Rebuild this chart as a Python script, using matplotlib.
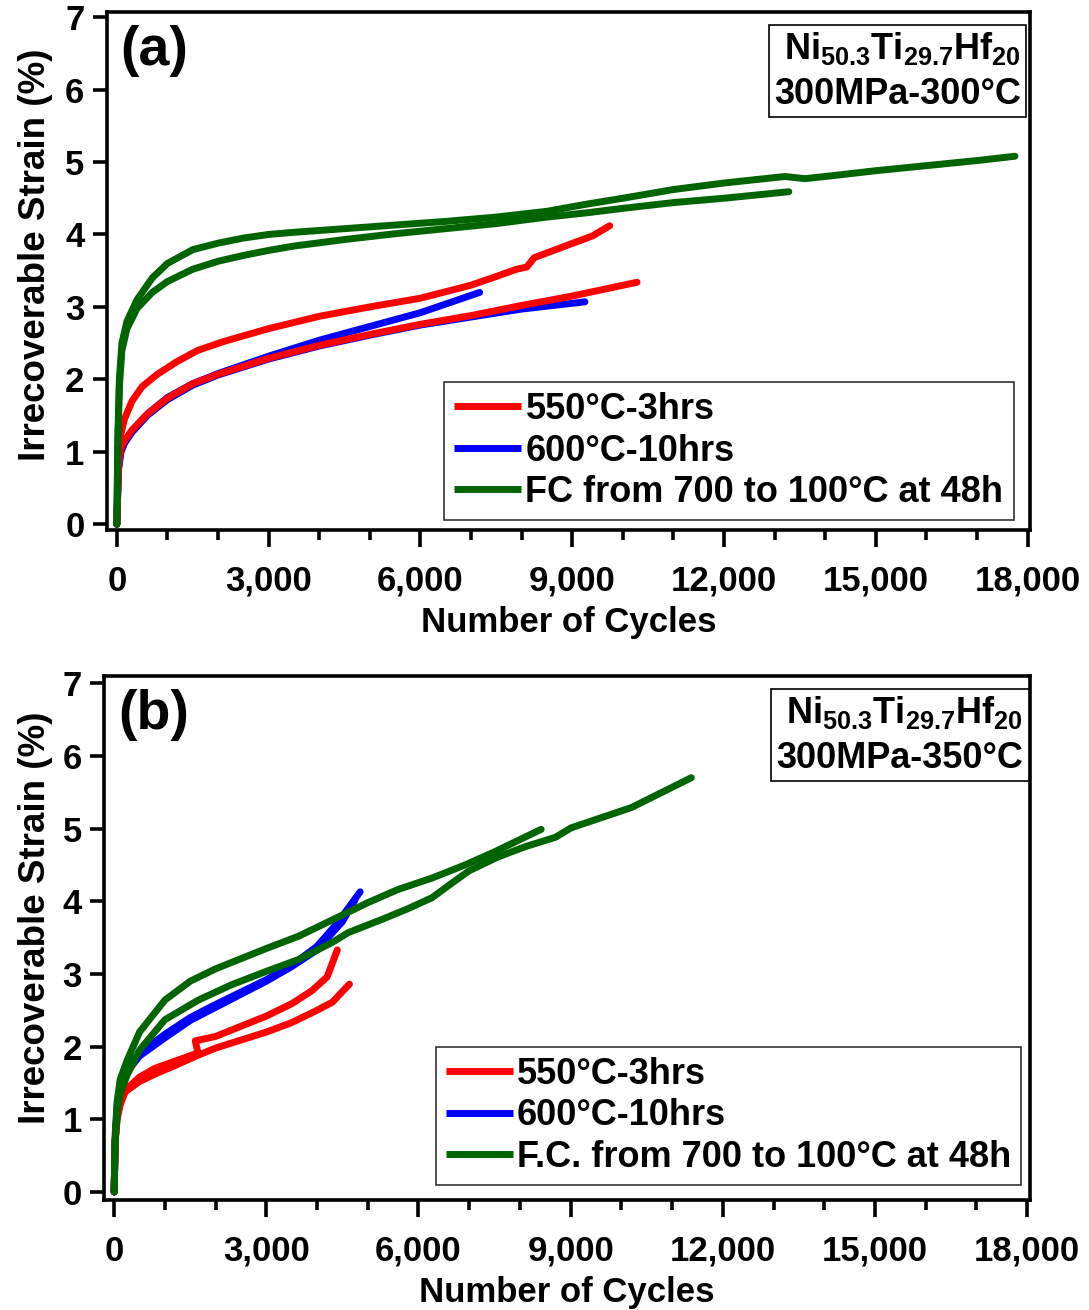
import matplotlib
matplotlib.use("Agg")
import matplotlib.pyplot as plt
from matplotlib.ticker import MultipleLocator, FuncFormatter

plt.rcParams['font.family'] = ['Liberation Sans', 'DejaVu Sans']
plt.rcParams['font.weight'] = 'bold'
plt.rcParams['axes.labelweight'] = 'bold'
plt.rcParams['mathtext.fontset'] = 'custom'
plt.rcParams['mathtext.rm'] = 'Liberation Sans:bold'
plt.rcParams['mathtext.bf'] = 'Liberation Sans:bold'
plt.rcParams['mathtext.default'] = 'rm'

RED = '#ff0000'
BLUE = '#0000ff'
GREEN = '#006400'

# ---- panel (a): 300MPa-300C ----
a_red1_x = [0, 30, 80, 150, 300, 500, 800, 1200, 1600, 2100, 3000, 4000, 5000, 6000, 7000, 7500, 7900, 8100, 8250, 8900, 9400, 9740]
a_red1_y = [0, 0.9, 1.25, 1.45, 1.7, 1.9, 2.07, 2.25, 2.4, 2.52, 2.7, 2.87, 3.0, 3.12, 3.3, 3.42, 3.52, 3.55, 3.68, 3.85, 3.98, 4.12]
a_red2_x = [0, 30, 80, 150, 300, 600, 1000, 1500, 2000, 3000, 4000, 5000, 6000, 7000, 8000, 9000, 10280]
a_red2_y = [0, 0.8, 1.05, 1.15, 1.3, 1.52, 1.74, 1.94, 2.07, 2.29, 2.47, 2.62, 2.76, 2.88, 3.02, 3.15, 3.34]
a_blue1_x = [0, 30, 80, 150, 300, 600, 1000, 1500, 2000, 3000, 4000, 5000, 6000, 7170]
a_blue1_y = [0, 0.75, 1.0, 1.12, 1.28, 1.52, 1.75, 1.94, 2.08, 2.32, 2.54, 2.73, 2.92, 3.2]
a_blue2_x = [0, 30, 80, 150, 300, 600, 1000, 1500, 2000, 3000, 4000, 5000, 6000, 7000, 8000, 9250]
a_blue2_y = [0, 0.75, 1.0, 1.12, 1.27, 1.5, 1.72, 1.92, 2.06, 2.28, 2.46, 2.61, 2.75, 2.86, 2.97, 3.07]
a_green1_x = [0, 20, 50, 100, 200, 400, 700, 1000, 1500, 2000, 2500, 3000, 3500, 4500, 5500, 6500, 7500, 8500, 9300,
              10000, 11000, 12000, 13200, 13600, 14000, 15000, 16000, 17000, 17750]
a_green1_y = [0, 1.2, 2.0, 2.5, 2.8, 3.1, 3.4, 3.6, 3.79, 3.88, 3.95, 4.0, 4.03, 4.08, 4.13, 4.18, 4.24, 4.32, 4.42,
              4.5, 4.62, 4.71, 4.8, 4.77, 4.8, 4.88, 4.95, 5.02, 5.08]
a_green2_x = [0, 20, 50, 100, 200, 400, 700, 1000, 1500, 2000, 2500, 3000, 3500, 4500, 5500, 6500, 7500, 8500, 9300,
              10000, 11000, 12000, 13280]
a_green2_y = [0, 1.1, 1.9, 2.4, 2.7, 2.98, 3.2, 3.35, 3.52, 3.63, 3.71, 3.78, 3.84, 3.93, 4.01, 4.08, 4.15, 4.24, 4.3,
              4.36, 4.44, 4.5, 4.59]

# ---- panel (b): 300MPa-350C ----
b_red1_x = [0, 20, 60, 120, 220, 500, 800, 1200, 1600, 1650, 1600, 2000, 2500, 3000, 3500, 3900, 4200, 4400]
b_red1_y = [0, 0.7, 1.05, 1.25, 1.4, 1.58, 1.7, 1.8, 1.9, 1.92, 2.08, 2.14, 2.28, 2.42, 2.59, 2.77, 2.96, 3.33]
b_red2_x = [0, 20, 60, 120, 220, 500, 800, 1200, 1650, 2000, 2500, 3000, 3500, 4000, 4300, 4640]
b_red2_y = [0, 0.7, 1.0, 1.2, 1.38, 1.52, 1.62, 1.74, 1.88, 1.98, 2.09, 2.2, 2.33, 2.5, 2.61, 2.86]
b_blue1_x = [0, 20, 60, 120, 250, 500, 1000, 1500, 2000, 2500, 3000, 3500, 4000, 4400, 4850]
b_blue1_y = [0, 0.7, 1.2, 1.45, 1.7, 1.9, 2.17, 2.4, 2.58, 2.75, 2.92, 3.12, 3.38, 3.7, 4.13]
b_blue2_x = [0, 20, 60, 120, 250, 500, 1000, 1500, 2000, 2500, 3000, 3500, 4000, 4500, 4750]
b_blue2_y = [0, 0.7, 1.15, 1.4, 1.65, 1.87, 2.12, 2.36, 2.54, 2.72, 2.9, 3.1, 3.33, 3.72, 4.02]
b_green1_x = [0, 20, 60, 120, 250, 500, 1000, 1660, 2310, 2980, 3640, 4290, 4620, 5280, 5800, 6270, 6600, 7000, 7570,
              8100, 8700, 9010, 10200, 11380]
b_green1_y = [0, 0.7, 1.1, 1.35, 1.6, 1.95, 2.37, 2.64, 2.85, 3.03, 3.2, 3.43, 3.57, 3.75, 3.9, 4.05, 4.22, 4.42, 4.61,
              4.75, 4.88, 5.01, 5.29, 5.70]
b_green2_x = [0, 20, 60, 120, 250, 500, 1000, 1500, 2000, 3000, 3640, 4290, 5000, 5590, 6270, 6920, 7500, 8420]
b_green2_y = [0, 0.8, 1.25, 1.55, 1.8, 2.2, 2.64, 2.9, 3.07, 3.35, 3.52, 3.74, 3.98, 4.16, 4.32, 4.5, 4.68, 4.99]

labels_a = ['550°C-3hrs', '600°C-10hrs', 'FC from 700 to 100°C at 48h']
labels_b = ['550°C-3hrs', '600°C-10hrs', 'F.C. from 700 to 100°C at 48h']
alloy = r'$\mathrm{Ni_{50.3}Ti_{29.7}Hf_{20}}$'
cond_a = '300MPa-300°C'
cond_b = '300MPa-350°C'

LW = 5.0


def style_axes(ax, ylab_xy):
    for s in ax.spines.values():
        s.set_linewidth(2.6)
    ax.set_xlim(-200, 18050)
    ax.xaxis.set_major_locator(MultipleLocator(3000))
    ax.xaxis.set_minor_locator(MultipleLocator(1000))
    ax.yaxis.set_major_locator(MultipleLocator(1))
    ax.xaxis.set_major_formatter(FuncFormatter(lambda v, p: f'{int(v):,}'))
    ax.tick_params(axis='x', which='major', direction='out', length=12, width=2.6,
                   labelsize=25, pad=13, top=False)
    ax.tick_params(axis='x', which='minor', direction='out', length=7, width=2.6, top=False)
    ax.tick_params(axis='y', which='major', direction='out', length=10, width=2.6,
                   labelsize=25, pad=6, right=False)
    ax.set_xlabel('Number of Cycles', fontsize=25, labelpad=6)
    ax.set_ylabel('Irrecoverable Strain (%)', fontsize=26.5)
    ax.yaxis.set_label_coords(*ylab_xy)


def draw_panel(ax, blues, reds, greens):
    for x, y in blues:
        hb, = ax.plot(x, y, color=BLUE, lw=LW, solid_capstyle='round', solid_joinstyle='round')
    for x, y in reds:
        hr, = ax.plot(x, y, color=RED, lw=LW, solid_capstyle='round', solid_joinstyle='round')
    for x, y in greens:
        hg, = ax.plot(x, y, color=GREEN, lw=LW, solid_capstyle='round', solid_joinstyle='round')
    return [hr, hb, hg]


def add_legend(ax, handles, labels, anchor):
    leg = ax.legend(handles, labels, loc='lower right', bbox_to_anchor=anchor, borderaxespad=0,
                    fontsize=26, frameon=True, fancybox=False, edgecolor='black', handlelength=1.85,
                    handletextpad=0.12, labelspacing=0.18, borderpad=0.28)
    leg.get_frame().set_linewidth(1.2)
    for ln in leg.get_lines():
        ln.set_solid_capstyle('butt')
    return leg


fig = plt.figure(figsize=(10.89, 13.10), dpi=100)
ax1 = fig.add_axes([0.098, 0.5954, 0.848, 0.3954])
ax2 = fig.add_axes([0.0955, 0.084, 0.850, 0.400])

# panel (a)
h = draw_panel(ax1,
               [(a_blue1_x, a_blue1_y), (a_blue2_x, a_blue2_y)],
               [(a_red1_x, a_red1_y), (a_red2_x, a_red2_y)],
               [(a_green1_x, a_green1_y), (a_green2_x, a_green2_y)])
style_axes(ax1, (-0.058, 0.531))
ax1.set_ylim(-0.08, 7.07)
add_legend(ax1, h, labels_a, (0.982, 0.019))
ax1.text(0.015, 0.975, '(a)', transform=ax1.transAxes, ha='left', va='top', fontsize=40)
ax1.text(0.99, 0.965, alloy + '\n' + cond_a, transform=ax1.transAxes, ha='right', va='top',
         fontsize=26, linespacing=1.35,
         bbox=dict(boxstyle='square,pad=0.15', fc='white', ec='black', lw=1.2))

# panel (b)
h = draw_panel(ax2,
               [(b_blue1_x, b_blue1_y), (b_blue2_x, b_blue2_y)],
               [(b_red1_x, b_red1_y), (b_red2_x, b_red2_y)],
               [(b_green1_x, b_green1_y), (b_green2_x, b_green2_y)])
style_axes(ax2, (-0.055, 0.538))
ax2.set_ylim(-0.11, 7.1)
add_legend(ax2, h, labels_b, (0.991, 0.029))
ax2.text(0.015, 0.975, '(b)', transform=ax2.transAxes, ha='left', va='top', fontsize=40)
ax2.text(0.993, 0.965, alloy + '\n' + cond_b, transform=ax2.transAxes, ha='right', va='top',
         fontsize=26, linespacing=1.35,
         bbox=dict(boxstyle='square,pad=0.15', fc='white', ec='black', lw=1.2))

fig.savefig('out.png', dpi=100)
